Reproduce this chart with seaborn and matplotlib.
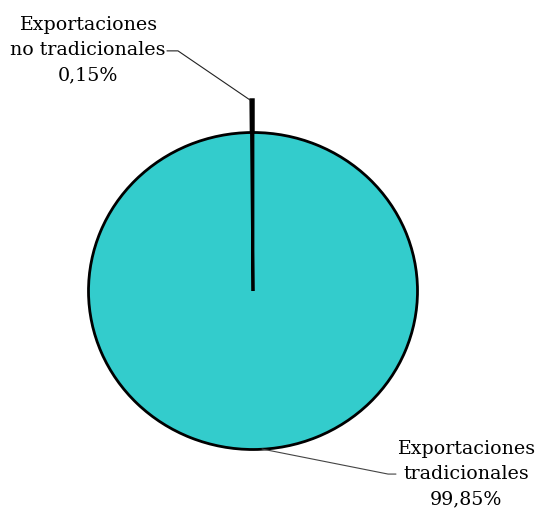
import numpy as np
import matplotlib
matplotlib.use("Agg")
import matplotlib.pyplot as plt
import seaborn as sns

categories = ["Exportaciones\nno tradicionales", "Exportaciones\ntradicionales"]
shares = [0.15, 99.85]
labels = ["0,15%", "99,85%"]

sns.set_theme(style="white")
plt.rcParams['font.family'] = ['DejaVu Serif']

fig = plt.figure(figsize=(5.38, 5.08), dpi=100)
ax = fig.add_axes([0, 0, 1, 1])

wedges, _ = ax.pie(shares, startangle=90, counterclock=True, radius=1,
                   colors=["black", "#33CCCC"],
                   wedgeprops=dict(edgecolor="black", linewidth=2))
# the small slice sticks out above the circle
wedges[0].set_radius(1.205)
wedges[0].set_linewidth(2.5)

ax.set_aspect('auto')
ax.set_xlim(-253 / 164.5, (538 - 253) / 164.5)
ax.set_ylim(-(508 - 291) / 158.5, 291 / 158.5)
ax.axis('off')

txt = [f"{c}\n{l}" for c, l in zip(categories, labels)]

ax.text(-1.005, 1.52, txt[0], ha='center', va='center', fontsize=13.7,
        linespacing=1.52, color='black')
ax.plot([-0.523, -0.456, -0.018], [1.515, 1.515, 1.205], color='#222222', lw=0.8)

ax.text(1.295, -1.155, txt[1], ha='center', va='center', fontsize=13.7,
        linespacing=1.52, color='black')
ax.plot([0.055, 0.821, 0.869], [-0.997, -1.155, -1.155], color='#444444', lw=0.8)

fig.savefig("out.png", dpi=100)
